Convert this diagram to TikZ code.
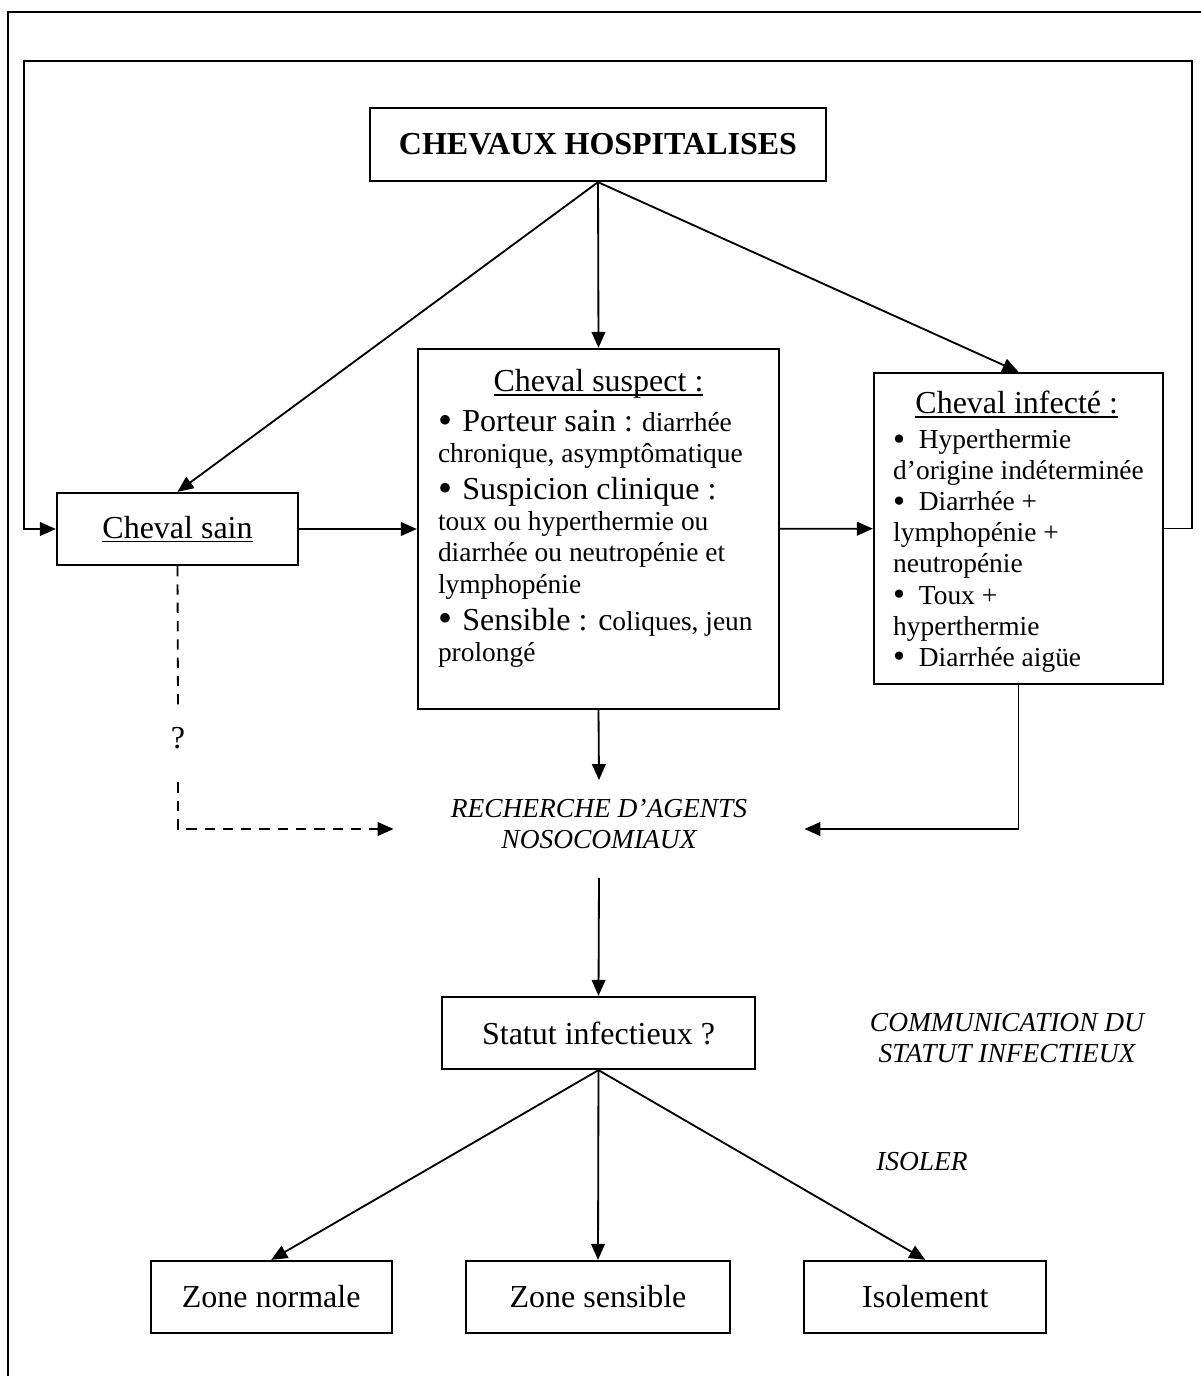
\documentclass[tikz,border=0pt]{standalone}
\usepackage{fontspec}
\setmainfont{Liberation Serif}
\usetikzlibrary{
  arrows.meta,
  positioning
}
\newlength{\pxu}
\setlength{\pxu}{0.4375pt}
\newcommand{\grand}{\fontsize{14}{16}\selectfont}
\newcommand{\petit}{\fontsize{12}{13.6}\selectfont}
\newcommand{\gpuce}{\raisebox{-0.05em}{\scalebox{1.25}{\textbullet}}}
\newcommand{\puce}{\gpuce\hspace{0.32em}}
\newcommand{\souligne}[1]{\setbox0=\hbox{#1}\rlap{\rule[-1.7pt]{\wd0}{0.6pt}}\box0}
\definecolor{hospLine}{RGB}{0,0,0}
\tikzset{
  hospbox/.style={
    draw=hospLine,
    line width=1pt,
    align=center,
    inner sep=0pt,
    font=\grand
  },
  hosparrow/.style={
    -{Triangle[length=7pt,width=6pt]},
    line width=0.8pt,
    draw=hospLine
  },
  hospdashed/.style={
    hosparrow,
    dash pattern=on 4.5pt off 3.5pt
  },
  hosplabel/.style={
    align=center,
    inner sep=0pt,
    font=\petit\itshape
  }
}

\begin{document}
\begin{tikzpicture}[x=0.4375pt, y=-0.4375pt, node distance=31.5pt]
  \useasboundingbox (0,0) rectangle (1201,1376);
  \draw[line width=1pt] (8,1376) -- (8,12) -- (1201,12);

  \node[hospbox, font=\grand\bfseries, minimum width=456*\pxu, minimum height=73*\pxu] (hosp) at (598,144.5)
    {CHEVAUX HOSPITALISES};
  \node[hospbox, minimum width=241*\pxu, minimum height=72*\pxu] (sain) at (177.5,529)
    {\souligne{Cheval sain}};
  \node[hospbox, align=left, font=\petit, minimum width=361*\pxu, minimum height=360*\pxu] (suspect) at (598.5,529)
    {\makebox[321\pxu]{\grand\souligne{Cheval suspect :}}\\[3.9pt]
     {\grand\puce Porteur sain :} diarrhée\\
     chronique, asymptômatique\\[2.6pt]
     {\grand\puce Suspicion clinique :}\\
     toux ou hyperthermie ou\\
     diarrhée ou neutropénie et\\
     lymphopénie\\[2.6pt]
     {\grand\puce Sensible : c}oliques, jeun\\
     prolongé\rule[-12pt]{0pt}{0pt}};
  \node[hospbox, align=left, font=\petit, minimum width=289*\pxu, minimum height=311*\pxu] (infecte) at (1018.5,528.5)
    {\makebox[247\pxu]{\grand\rule{0pt}{12.6pt}\souligne{Cheval infecté :}}\\[1.7pt]
     \gpuce\hspace{0.5em}Hyperthermie\\
     d’origine indéterminée\\
     \gpuce\hspace{0.5em}Diarrhée +\\
     lymphopénie +\\
     neutropénie\\
     \gpuce\hspace{0.5em}Toux +\\
     hyperthermie\\
     \gpuce\hspace{0.5em}Diarrhée aigüe};

  \node[hosplabel, minimum width=410*\pxu, minimum height=97*\pxu] (rech) at (599,829)
    {RECHERCHE D’AGENTS\\NOSOCOMIAUX\rule[-4.4pt]{0pt}{0pt}};
  \node[font=\grand, inner sep=0pt, minimum height=74*\pxu, text depth=6pt] (q) at (178,745) {?};

  \node[hospbox, minimum width=313*\pxu, minimum height=72*\pxu] (statut) at (598.5,1033)
    {Statut infectieux ?};
  \node[hosplabel] (comm) at (1007,1038) {COMMUNICATION DU\\STATUT INFECTIEUX};
  \node[hosplabel] (isoler) at (922,1162) {ISOLER};

  \node[hospbox, minimum width=264*\pxu, minimum height=72*\pxu] (zsens) at (598,1297) {Zone sensible};
  \node[hospbox, minimum width=241*\pxu, minimum height=72*\pxu, left=of zsens] (znorm) {Zone normale};
  \node[hospbox, minimum width=242*\pxu, minimum height=72*\pxu, right=of zsens] (isol) {Isolement};

  \coordinate (boucleD) at (1192,61);
  \coordinate (boucleG) at (24,61);

  \draw[hosparrow] (hosp.south) -- (sain.north);
  \draw[hosparrow] (hosp.south) -- (suspect.north);
  \draw[hosparrow] (hosp.south) -- (infecte.north);
  \draw[hosparrow] (sain) -- (suspect);
  \draw[hosparrow] (suspect) -- (infecte);
  \draw[hosparrow] (infecte.east) -| (boucleD) -- (boucleG) |- (sain.west);
  \draw[hosparrow] (suspect.south) -- (rech.north);
  \draw[hosparrow] (infecte.south) |- (rech.east);
  \draw[hospdashed, -] (sain.south) -- (q.north);
  \draw[hospdashed] (q.south) |- (rech.west);
  \draw[hosparrow] (rech.south) -- (statut.north);
  \draw[hosparrow] (statut.south) -- (znorm.north);
  \draw[hosparrow] (statut.south) -- (zsens.north);
  \draw[hosparrow] (statut.south) -- (isol.north);
\end{tikzpicture}
\end{document}
